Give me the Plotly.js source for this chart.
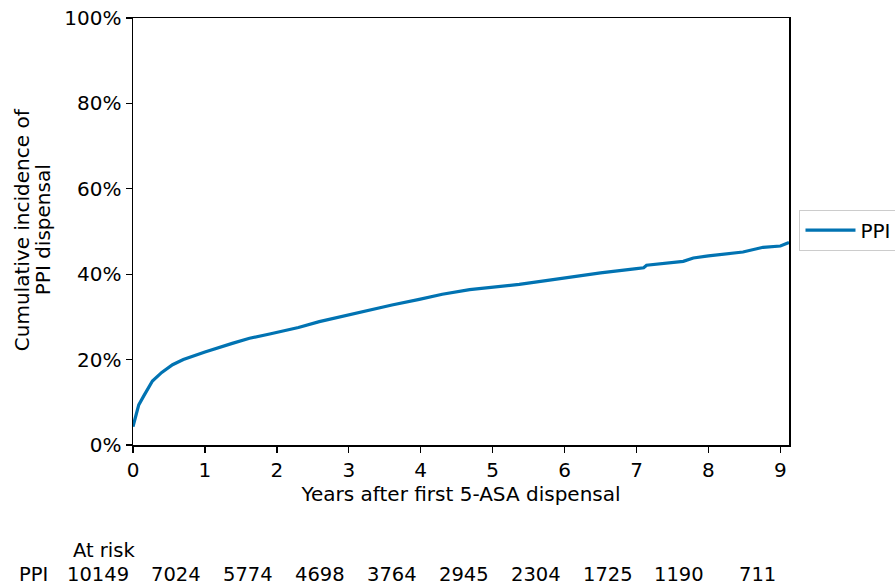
<!DOCTYPE html>
<html>
<head>
<meta charset="utf-8">
<script src="https://cdn.plot.ly/plotly-3.0.1.min.js"></script>
<style>html,body{margin:0;padding:0;background:#fff;}#chart{width:895px;height:585px;}</style>
</head>
<body>
<div id="chart"></div>
<script>
// Years after first 5-ASA dispensal
const years = [0, 0.04, 0.08, 0.15, 0.27, 0.4, 0.55, 0.7, 1.0, 1.38, 1.62, 1.9, 2.0, 2.3, 2.59, 3.0, 3.29, 3.6, 3.98, 4.3, 4.68, 5.0, 5.37, 5.79, 6.07, 6.5, 7.0, 7.1, 7.14, 7.65, 7.79, 8.0, 8.48, 8.76, 9.0, 9.12];
// Cumulative incidence of PPI dispensal (%)
const incidence = [4.3, 7.0, 9.4, 11.5, 15.0, 17.0, 18.8, 20.0, 21.8, 23.8, 25.0, 26.0, 26.4, 27.5, 28.9, 30.5, 31.6, 32.8, 34.1, 35.3, 36.4, 37.0, 37.6, 38.6, 39.3, 40.3, 41.3, 41.5, 42.1, 43.0, 43.8, 44.3, 45.2, 46.3, 46.6, 47.4];
const seriesName = "PPI";
const tickYears = [0, 1, 2, 3, 4, 5, 6, 7, 8, 9];
const yTickVals = [0, 20, 40, 60, 80, 100];
const yTickText = ["0%", "20%", "40%", "60%", "80%", "100%"];
const yTitleLines = ["Cumulative incidence of", "PPI dispensal"];
const atRiskYears = [0, 1, 2, 3, 4, 5, 6, 7, 8, 9];
const atRiskCounts = [10149, 7024, 5774, 4698, 3764, 2945, 2304, 1725, 1190, 711];

const FONT = "DejaVu Sans, sans-serif";
const FS = 20;
const annotations = atRiskYears.map((yr, i) => ({
  x: yr, xref: "x", y: -0.304, yref: "paper",
  text: String(atRiskCounts[i]), showarrow: false,
  xanchor: "right", yanchor: "middle", xshift: -2,
  font: {family: FONT, size: 19.5, color: "#000"}
}));
annotations.push({x: atRiskYears[0], xref: "x", y: -0.246, yref: "paper", text: "At risk", showarrow: false,
  xanchor: "left", yanchor: "middle", xshift: -62, font: {family: FONT, size: 19.5, color: "#000"}});
annotations.push({x: 0, xref: "paper", y: -0.304, yref: "paper", text: seriesName, showarrow: false,
  xanchor: "right", yanchor: "middle", xshift: -83, font: {family: FONT, size: 19.5, color: "#000"}});
// y-axis title, two lines
const yTitleShift = [-111, -90];
yTitleLines.forEach((t, i) => annotations.push({
  x: 0, xref: "paper", y: 0.503, yref: "paper", text: t, showarrow: false, textangle: -90,
  xanchor: "center", yanchor: "middle", xshift: yTitleShift[i], font: {family: FONT, size: FS, color: "#000"}
}));

const trace = {
  x: years, y: incidence, type: "scatter", mode: "lines", name: seriesName,
  line: {color: "#0173b2", width: 3.2, shape: "linear"}
};

const layout = {
  width: 895, height: 585,
  margin: {l: 133, r: 106, t: 18, b: 140, autoexpand: false},
  paper_bgcolor: "#fff", plot_bgcolor: "#fff",
  font: {family: FONT, size: FS, color: "#000"},
  xaxis: {
    range: [0, 9.12], tickvals: tickYears, ticks: "outside", ticklen: 6, tickwidth: 1.3, tickcolor: "#000",
    showgrid: false, zeroline: false, showline: true, linecolor: "#000", linewidth: 1.5, mirror: true,
    title: {text: "Years after first 5-ASA dispensal", font: {family: FONT, size: FS}, standoff: 4},
    tickfont: {family: FONT, size: FS}
  },
  yaxis: {
    range: [0, 100], tickvals: yTickVals, ticktext: yTickText, ticks: "outside", ticklen: 6, tickwidth: 1.3, tickcolor: "#000",
    showgrid: false, zeroline: false, showline: true, linecolor: "#000", linewidth: 1.5, mirror: true,
    tickfont: {family: FONT, size: FS}
  },
  showlegend: true,
  legend: {x: 1.016, xanchor: "left", y: 0.503, yanchor: "middle", bgcolor: "#fff", bordercolor: "#ccc", borderwidth: 1,
    itemwidth: 50, font: {family: FONT, size: FS}},
  annotations: annotations
};

Plotly.newPlot("chart", [trace], layout, {displayModeBar: false, staticPlot: true});
</script>
</body>
</html>
